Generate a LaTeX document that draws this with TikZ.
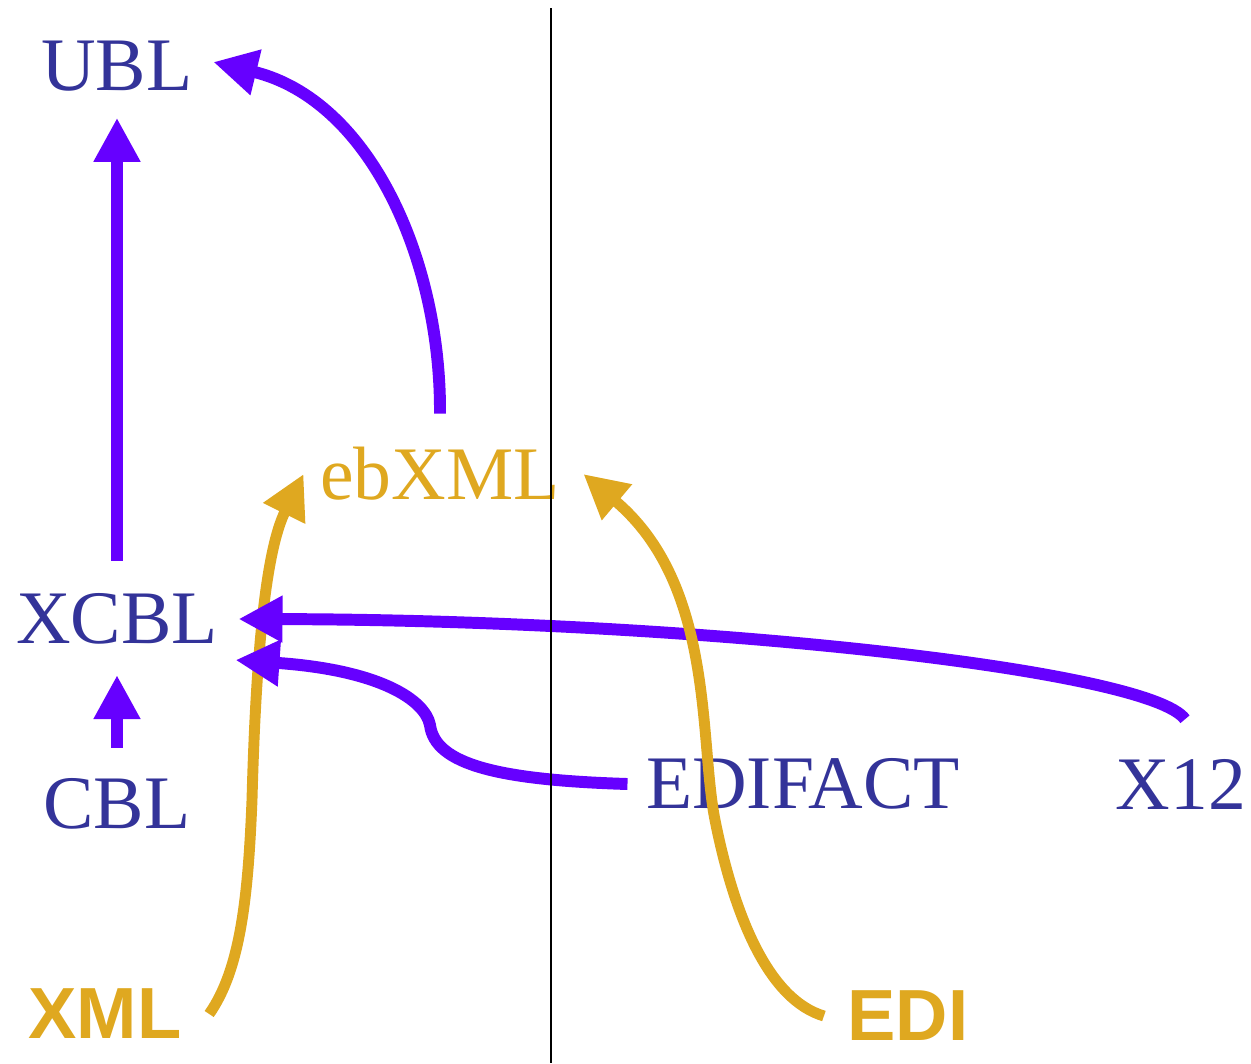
\documentclass[tikz,border=0pt]{standalone}
\usepackage{fontspec}
\setmainfont{Liberation Serif}
\newfontfamily\srcsans{Liberation Sans}
\usepackage{xcolor}
\definecolor{StdBlue}{HTML}{333399}
\definecolor{MapViolet}{HTML}{6600FF}
\definecolor{SrcGold}{HTML}{DFA820}
\usepackage{tikz}
\usetikzlibrary{arrows.meta,positioning}

\begin{document}
\begin{tikzpicture}[x=0.01cm, y=-0.01cm, >={Triangle[length=12.5pt, width=12.5pt]},
  every node/.style={inner sep=0pt},
  stdlabel/.style={text=StdBlue, font=\fontsize{21.5pt}{24pt}\selectfont},
  srclabel/.style={text=SrcGold, font=\srcsans\bfseries\fontsize{20.6pt}{24pt}\selectfont},
  violetarrow/.style={->, color=MapViolet, line width=3.4pt},
  goldarrow/.style={->, color=SrcGold, line width=3.1pt}]
  \useasboundingbox (0,0) rectangle (1251,1063);

  % standards
  \node[stdlabel] (ubl) at (117,66) {UBL};
  \node[stdlabel] (xcbl) at (117,619) {XCBL};
  \node[stdlabel] (cbl) at (117,804) {CBL};
  \node[stdlabel, text=SrcGold] (ebxml) at (440,474) {ebXML};
  \node[stdlabel] (edifact) at (803,784) {EDIFACT};
  \node[stdlabel] (xtwelve) at (1181,784) {X12};
  % families
  \node[srclabel] (xml) at (105,1014) {XML};
  \node[srclabel] (edi) at (908,1016) {EDI};

  \draw[goldarrow] ([xshift=0.27cm]xml.east) .. controls (240,970) and (248,900) .. (252,800)
    .. controls (256,650) and (266,550) .. ([xshift=-0.16cm]ebxml.west);

  \draw[violetarrow, shorten <=0.32cm, shorten >=0.26cm] (xcbl) -- (ubl);
  \draw[violetarrow, shorten <=0.30cm, shorten >=0.30cm] (cbl) -- (xcbl);
  \draw[violetarrow] ([yshift=0.33cm]ebxml.north) .. controls (441,260) and (370,100)
    .. ([xshift=0.2cm, yshift=0.04cm]ubl.east);
  \draw[violetarrow] ([xshift=0.04cm, yshift=0.39cm]xtwelve.north) .. controls (1150,670) and (700,620)
    .. ([xshift=0.2cm]xcbl.east);
  \draw[violetarrow] ([xshift=-0.18cm]edifact.west) .. controls (500,780) and (435,765) .. (430,725)
    .. controls (425,700) and (380,670) .. ([xshift=0.17cm, yshift=-0.41cm]xcbl.east);

  \draw[goldarrow] ([xshift=-0.23cm]edi.west) .. controls (770,1000) and (735,920) .. (715,820)
    .. controls (699,740) and (715,585) .. ([xshift=0.23cm]ebxml.east);

  % divider
  \coordinate (divtop) at (551,8);
  \coordinate (divbot) at (551,1063);
  \draw[line width=0.85pt] (divtop) -- (divbot);
\end{tikzpicture}
\end{document}
